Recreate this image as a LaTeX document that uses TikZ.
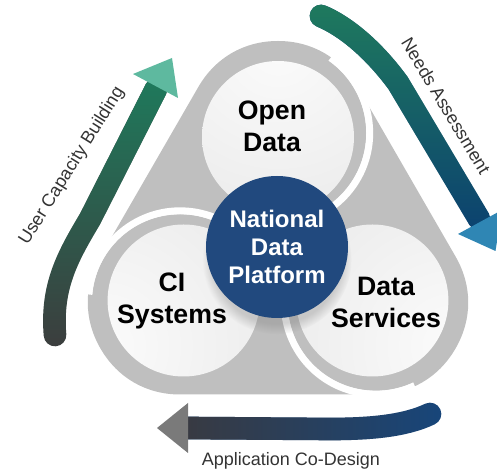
\documentclass[tikz,border=0pt]{standalone}
\usepackage{fontspec}
\setmainfont{Liberation Sans}
\usetikzlibrary{fadings, shadows}

\definecolor{ringgray}{RGB}{191,191,191}
\definecolor{discwhite}{RGB}{251,251,251}
\definecolor{ndpblue}{RGB}{33,73,126}
\definecolor{ucbdark}{RGB}{60,62,62}
\definecolor{ucbgreen}{RGB}{31,122,92}
\definecolor{ucbhead}{RGB}{94,185,159}
\definecolor{nagreen}{RGB}{31,122,94}
\definecolor{nablue}{RGB}{12,66,112}
\definecolor{nahead}{RGB}{47,134,180}
\definecolor{acdgray}{RGB}{58,58,64}
\definecolor{acdblue}{RGB}{24,70,122}
\definecolor{acdhead}{RGB}{122,122,122}

\tikzfading[name=fadeup, top color=transparent!0, bottom color=transparent!100]
\tikzfading[name=fadeupsoon, top color=transparent!0, middle color=transparent!10, bottom color=transparent!100]
\tikzfading[name=fadeleft, left color=transparent!0, right color=transparent!100]

\begin{document}
\begin{tikzpicture}[x=0.75pt, y=0.75pt,
		hull/.style={fill=ringgray, draw=ringgray, line width=138pt, line join=round},
		gap/.style={draw=white, line width=5.5pt},
		band/.style={line width=17pt, line cap=round},
		disclabel/.style={font=\bfseries\fontsize{20}{24}\selectfont, align=center, text=black},
		sidelabel/.style={font=\fontsize{13.5}{16}\selectfont, text=black!80}]
		\useasboundingbox (0,0) rectangle (497,471);
		
		% centres of the rings
		\coordinate (g) at (278,225);
		\coordinate (o) at ([shift={(90:113)}]g);
		\coordinate (c) at ([shift={(210:113)}]g);
		\coordinate (d) at ([shift={(330:113)}]g);
		
		\path[hull] (o) -- (c) -- (d) -- cycle;
		
		\draw[gap] ([shift={(55:91.5)}]o) arc (55:-100:91.5);
		\draw[gap] ([shift={(175:91.5)}]c) arc (175:20:91.5);
		\draw[gap] ([shift={(-65:91.5)}]d) arc (-65:-220:91.5);
		
		\foreach \r/\a in {o/90, c/210, d/330} {
			\fill[ringgray] (\r) circle (88);
			\begin{scope}
				\clip ([shift={(\a:109)}]g) circle (76);
				\shade[inner color=discwhite, outer color=black!13] ([shift={(\a:200)}]g) circle (340);
			\end{scope}
		}
		
		\node[disclabel] (open) at (272,345) {Open\\Data};
		\node[disclabel] (ci) at (172,170) {CI\\Systems};
		\node[disclabel] (services) at (386,169) {Data\\Services};
		
		\node[circle, fill=ndpblue, minimum size=106.5pt, inner sep=0pt, align=center,
			text=white, font=\bfseries\fontsize{18}{21}\selectfont,
			circular drop shadow={shadow xshift=0pt, shadow yshift=-9pt, shadow scale=1.05, opacity=.35}]
			(ndp) at (277,224) {National\\Data\\Platform};
		
		% user capacity building
		\draw[band, draw=ucbdark] (55,136) .. controls (51,185) and (68,215) .. (90,252) -- (156,382);
		\draw[band, draw=ucbgreen, path fading=fadeupsoon] (55,136) .. controls (51,185) and (68,215) .. (90,252) -- (156,382);
		\fill[ucbhead] (133,397) -- (172,413) -- (178,373) -- cycle;
		\node[sidelabel, rotate=58] (ucb) at (72,305) {User Capacity Building};
		
		% needs assessment
		\draw[band, draw=nablue] (321,455) .. controls (345,445) and (373,422) .. (398,388) -- (479,252);
		\draw[band, draw=nagreen, path fading=fadeup] (321,455) .. controls (345,445) and (373,422) .. (398,388) -- (479,252);
		\fill[nahead] (458,237) -- (495.5,220) -- (502,261) -- cycle;
		\node[sidelabel, rotate=-59] (needs) at (446,365) {Needs Assessment};
		
		% application co-design
		\draw[band, draw=acdblue] (430,57) .. controls (405,45) and (370,42) .. (330,42) -- (186,43);
		\draw[band, draw=acdgray, path fading=fadeleft] (430,57) .. controls (405,45) and (370,42) .. (330,42) -- (186,43);
		\fill[acdhead] (188,68) -- (157,43) -- (188,18) -- cycle;
		\node[sidelabel, anchor=base] (acd) at (291,5) {Application Co-Design};
	\end{tikzpicture}
\end{document}
